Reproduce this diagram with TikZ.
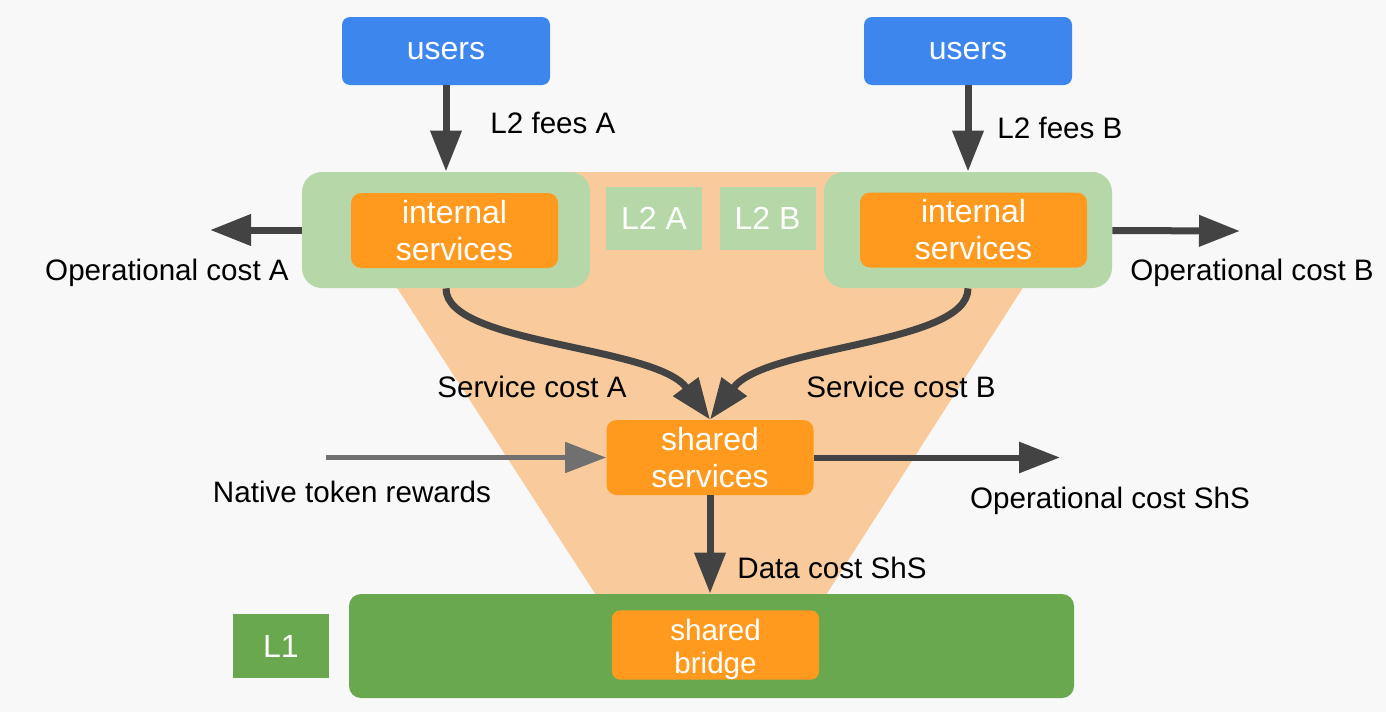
\documentclass[tikz,border=0pt]{standalone}
\usepackage{fontspec}
\setmainfont{Liberation Sans}
\usetikzlibrary{arrows.meta,positioning}
\definecolor{userblue}{HTML}{3C86EE}
\definecolor{chaingreen}{HTML}{B6D7A8}
\definecolor{svcorange}{HTML}{FF9A1F}
\definecolor{funnel}{HTML}{F9CB9C}
\definecolor{basegreen}{HTML}{6AA84F}
\definecolor{flowgray}{HTML}{434343}
\definecolor{rewardgray}{HTML}{707070}
\definecolor{canvas}{HTML}{F8F8F8}

\begin{document}
\begin{tikzpicture}[
  x=0.5pt,y=-0.5pt,
  user/.style={fill=userblue,rounded corners=4pt,minimum width=104pt,minimum height=34pt,text=white,font=\fontsize{16}{19}\selectfont},
  chain/.style={fill=chaingreen,rounded corners=10pt,minimum width=144pt,minimum height=58pt},
  svc/.style={fill=svcorange,rounded corners=5pt,inner sep=0pt,minimum width=103.5pt,minimum height=37.5pt,text=white,align=center,font=\fontsize{16}{18.5}\selectfont},
  tag/.style={fill=chaingreen,minimum width=48pt,minimum height=31.5pt,text=white,font=\fontsize{16}{19}\selectfont},
  lbl/.style={inner sep=0pt,font=\fontsize{14.8}{17}\selectfont},
  arrow/.style={-{Triangle[length=20.5pt,width=15pt]},line width=3.5pt,draw=flowgray}
]
\fill[canvas] (0,0) rectangle (1386,712);
\useasboundingbox (0,0) rectangle (1386,712);
% funnel behind the L2 boxes
\fill[funnel] (322,172) -- (1097,172) -- (826,595) -- (596,595) -- cycle;

\node[user] (usersA) at (446,51) {users};
\node[user] (usersB) at (968,51) {users};
\node[chain] (chainA) at (446,230) {};
\node[chain] (chainB) at (968,230) {};
\node[svc] (internalA) at (454.5,230.5) {internal\\services};
\node[svc,minimum width=113.5pt] (internalB) at (973.5,230) {internal\\services};
\node[tag] (tagA) at (654,218.5) {L2 A};
\node[tag] (tagB) at (767.5,218.5) {L2 B};
\node[svc] (shared) at (710,457.5) {shared\\services};
\node[fill=basegreen,rounded corners=6pt,minimum width=362.5pt,minimum height=52pt] (l1box) at (711.5,646) {};
\node[tag,fill=basegreen,minimum height=32pt] (l1tag) at (281,646) {L1};
\node[svc,rounded corners=4pt,minimum height=34pt,font=\fontsize{14.8}{16.5}\selectfont] (bridge) at (715.5,645) {\rule{0pt}{15pt}shared\\bridge};

\coordinate (opA) at (210,230);
\coordinate (opB) at (1240,231);
\coordinate (opS) at (1060,457.5);
\coordinate (rewardsrc) at (326,457.5);

\draw[arrow] (usersA) -- (chainA);
\draw[arrow] (usersB) -- (chainB);
\draw[arrow] (chainA) -- (opA);
\draw[arrow] (chainB) -- (opB);
\draw[arrow] (chainA.south) .. controls (446,345) and (655,345) .. (shared.north);
\draw[arrow] (chainB.south) .. controls (968,345) and (765,345) .. (shared.north);
\draw[arrow,draw=rewardgray,line width=2.5pt] (rewardsrc) -- (shared);
\draw[arrow,line width=3pt] (shared) -- (opS);
\draw[arrow] (shared) -- (shared.south |- l1box.north);

\node[lbl,anchor=base west] (feesA) at (490,133) {L2 fees A};
\node[lbl,anchor=base west] (feesB) at (997,138) {L2 fees B};
\node[lbl,anchor=base] (opAtext) at (167,280) {Operational cost A};
\node[lbl,anchor=base] (opBtext) at (1252,280) {Operational cost B};
\node[lbl,anchor=base] (svcAtext) at (532,397) {Service cost A};
\node[lbl,anchor=base] (svcBtext) at (901,397) {Service cost B};
\node[lbl,anchor=base] (rewards) at (352,502) {Native token rewards};
\node[lbl,anchor=base] (opStext) at (1110,508) {Operational cost ShS};
\node[lbl,anchor=base west] (datacost) at (737,578) {Data cost ShS};
\end{tikzpicture}
\end{document}
